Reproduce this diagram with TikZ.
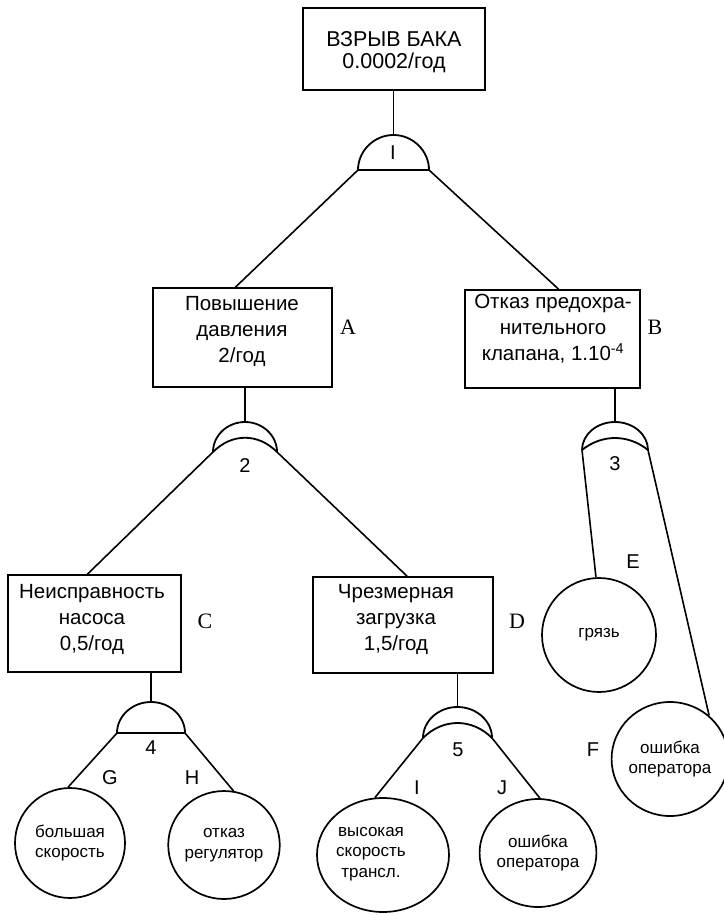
\documentclass[tikz,border=0pt]{standalone}
\usepackage{fontspec}
\setmainfont{Liberation Sans}
\newfontfamily\lblserif{Liberation Serif}
\usetikzlibrary{calc,shapes.geometric}
\tikzset{
  boxframe/.style={draw, line width=1.8pt, rectangle, inner sep=0pt},
  boxtxt/.style={align=center, inner sep=0pt, font=\fontsize{20.5}{26}\selectfont},
  toptxt/.style={align=center, inner sep=0pt, font=\fontsize{21.5}{21.5}\selectfont},
  evt/.style={draw, line width=1.7pt, ellipse, inner sep=0pt, align=center, font=\fontsize{17}{20.5}\selectfont},
  conn/.style={line width=1.6pt},
  gateline/.style={line width=1.8pt},
  sercap/.style={inner sep=0pt, font=\lblserif\fontsize{22}{22}\selectfont},
  sanscap/.style={inner sep=0pt, font=\fontsize{20}{20}\selectfont},
  gnum/.style={inner sep=0pt, font=\fontsize{20}{20}\selectfont}
}
\begin{document}
\begin{tikzpicture}[x=1pt,y=-1pt]
\fill[white] (0,0) rectangle (723,915);
\useasboundingbox (0,0) rectangle (723,915);

% boxes
\node[boxframe, minimum width=182pt, minimum height=82pt] (T) at (394,49) {};
\node[toptxt] (Tt) at (394,52) {ВЗРЫВ БАКА\\0.0002/год};
\node[boxframe, minimum width=179pt, minimum height=99pt] (A) at (242.5,337.5) {};
\node[boxtxt] (At) at (242,331) {Повышение\\давления\\2/год};
\node[boxframe, minimum width=175pt, minimum height=98pt] (B) at (552.5,339) {};
\node[boxtxt] (Bt) at (553,329) {Отказ предохра-\\нительного\\клапана, 1.10\textsuperscript{-4}};
\node[boxframe, minimum width=173pt, minimum height=97pt] (C) at (94.5,623.5) {};
\node[boxtxt] (Ct) at (92,619) {Неисправность\\насоса\\0,5/год};
\node[boxframe, minimum width=180pt, minimum height=96pt] (D) at (403,625) {};
\node[boxtxt] (Dt) at (396,619) {Чрезмерная\\загрузка\\1,5/год};

% labels
\node[sercap] (LA) at (348,327) {A};
\node[sercap] (LB) at (655,327) {B};
\node[sercap] (LC) at (205,621) {C};
\node[sercap] (LD) at (517,621) {D};
\node[sanscap] (LE) at (633,562) {E};
\node[sanscap] (LF) at (593,750) {F};
\node[sanscap] (LG) at (110,778) {G};
\node[sanscap] (LH) at (192,778) {H};
\node[sanscap] (LI) at (417,788) {I};
\node[sanscap] (LJ) at (502,788) {J};

% events (circles)
\node[evt, minimum width=114pt, minimum height=114pt] (E) at (599,635) {грязь};
\node[evt, minimum width=108pt, minimum height=114pt] (F) at (670,759) {ошибка\\оператора};
\node[evt, minimum width=110pt, minimum height=110pt] (G) at (70,843) {большая\\скорость};
\node[evt, minimum width=95pt, minimum height=108pt] (H) at (224,845) {отказ\\регулятор};
\node[evt, minimum width=132pt, minimum height=114pt] (I) at (383,855) {};
\node[evt, draw=none, minimum width=10pt, minimum height=10pt] (It) at (371,854) {высокая\\скорость\\трансл.};
\node[evt, minimum width=113pt, minimum height=108pt] (J) at (538,853) {ошибка\\оператора};

% gate coordinates
\coordinate (g1t) at (393.5,135); \coordinate (g1l) at (358,170); \coordinate (g1r) at (429,170);
\coordinate (g2t) at (245,422);   \coordinate (g2l) at (213,452); \coordinate (g2r) at (277,452);
\coordinate (g3t) at (615,422);   \coordinate (g3l) at (582,450); \coordinate (g3r) at (648,450);
\coordinate (g4t) at (151,702);   \coordinate (g4l) at (117,733); \coordinate (g4r) at (185,733);
\coordinate (g5t) at (457.5,707); \coordinate (g5l) at (423,738); \coordinate (g5r) at (492,738);

% gate 1 (AND)
\draw[gateline] (g1l) .. controls (358,151) and (374,135) .. (g1t) .. controls (413,135) and (429,151) .. (g1r) -- cycle;
% gate 2 (OR)
\draw[gateline] (g2l) .. controls (213,435.5) and (227.4,422) .. (g2t) .. controls (262.6,422) and (277,435.5) .. (g2r);
\draw[gateline] (g2l) .. controls (232,433) and (258,433) .. (g2r);
% gate 3 (OR)
\draw[gateline] (g3l) .. controls (582,434.6) and (596.8,422) .. (g3t) .. controls (633.2,422) and (648,434.6) .. (g3r);
\draw[gateline] (g3l) .. controls (602,434) and (628,434) .. (g3r);
% gate 4 (AND)
\draw[gateline] (g4l) .. controls (117,716) and (132.3,702) .. (g4t) .. controls (169.7,702) and (185,716) .. (g4r) -- cycle;
% gate 5 (OR)
\draw[gateline] (g5l) .. controls (423,721) and (438.5,707) .. (g5t) .. controls (476.5,707) and (492,721) .. (g5r);
\draw[gateline] (g5l) .. controls (443,718) and (472,718) .. (g5r);

% gate numbers
\node[gnum] (n1) at (393,153) {I};
\node[gnum] (n2) at (245,466) {2};
\node[gnum] (n3) at (615,464) {3};
\node[gnum] (n4) at (151,748) {4};
\node[gnum] (n5) at (458,750) {5};

% connectors
\draw[conn] (g1t |- T.south) -- (g1t);
\draw[conn] (g1l) -- ($(A.north)+(-7,0)$);
\draw[conn] (g1r) -- ($(B.north)+(6,0)$);
\draw[conn] (g2t |- A.south) -- (g2t);
\draw[conn] (g2l) -- ($(C.north)+(-7,0)$);
\draw[conn] (g2r) -- ($(D.north)+(4,0)$);
\draw[conn] (g3t |- B.south) -- (g3t);
\draw[conn] (g3l) -- (E.93);
\draw[conn] (g3r) -- (F.48);
\draw[conn] (g4t |- C.south) -- (g4t);
\draw[conn] (g4l) -- (G.92);
\draw[conn] (g4r) -- (H.80);
\draw[conn] (g5t |- D.south) -- (g5t);
\draw[conn] (g5l) -- (I.98);
\draw[conn] (g5r) -- (J.88);
\end{tikzpicture}
\end{document}
